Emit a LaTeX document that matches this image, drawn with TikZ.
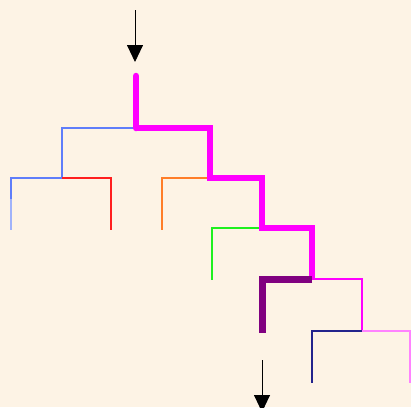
\documentclass[tikz,border=0pt]{standalone}
\usepackage{tikz}
\usetikzlibrary{arrows.meta,positioning,calc}

\definecolor{paper}{RGB}{253,243,229}
\definecolor{branchBlue}{RGB}{95,125,250}
\definecolor{branchLightBlue}{RGB}{160,178,250}
\definecolor{branchRed}{RGB}{255,30,30}
\definecolor{branchOrange}{RGB}{255,125,40}
\definecolor{branchGreen}{RGB}{30,240,30}
\definecolor{pathMagenta}{RGB}{255,0,255}
\definecolor{pathPurple}{RGB}{128,0,128}
\definecolor{branchPink}{RGB}{255,130,255}
\definecolor{branchNavy}{RGB}{35,35,140}

\begin{document}
\begin{tikzpicture}[
    x=1pt, y=-1pt,
    thinEdge/.style={line width=1.6pt},
    hotPath/.style={
        line width=6.5pt, draw=pathMagenta, line join=miter
    },
    donePath/.style={
        line width=7pt, draw=pathPurple, line join=miter
    },
    ioArrow/.style={
        -{Triangle[length=17pt, width=16pt]}, line width=0.9pt, draw=black
    }
]

% Page
\useasboundingbox[fill=paper] (0,0) rectangle (411,407);

% Split points of the tree
\coordinate (root) at (136,76);
\coordinate (s1) at (136,128);
\coordinate (s2) at (62,178);
\coordinate (s3) at (210,178);
\coordinate (s4) at (262,228);
\coordinate (s5) at (312,279);
\coordinate (s6) at (362,331);

% Leaves
\coordinate (l1) at (11,230);
\coordinate (l2) at (111,230);
\coordinate (l3) at (162,230);
\coordinate (l4) at (212,280);
\coordinate (l5) at (262,333);
\coordinate (l6) at (312,383);
\coordinate (l7) at (410,383);

% Arrow ends
\coordinate (inTop) at (135,10);
\coordinate (inEnd) at (135,62);
\coordinate (outTop) at (262,360);
\coordinate (outEnd) at (262,412);

% Side branches
\draw[thinEdge, branchBlue] (s1) -| (s2);
\draw[thinEdge, branchBlue] (s2) -| ($(l1)+(0,-30)$);
\draw[thinEdge, branchLightBlue] ($(l1)+(0,-31)$) -- (l1);
\draw[thinEdge, branchRed] (s2) -| (l2);
\draw[thinEdge, branchOrange] (s3) -| (l3);
\draw[thinEdge, branchGreen] (s4) -| (l4);
\draw[thinEdge, pathMagenta] (s5) -| (s6);
\draw[thinEdge, branchNavy] (s6) -| (l6);
\draw[thinEdge, branchPink] (s6) -| (l7);

% Search path
\draw[hotPath, line cap=round] (root) -- (s1);
\draw[hotPath] (s1) -| (s3) -| (s4) -| (s5);
\draw[donePath] (s5) -| (l5);

% Input and output
\draw[ioArrow] (inTop) -- (inEnd);
\draw[ioArrow] (outTop) -- (outEnd);

\end{tikzpicture}
\end{document}
